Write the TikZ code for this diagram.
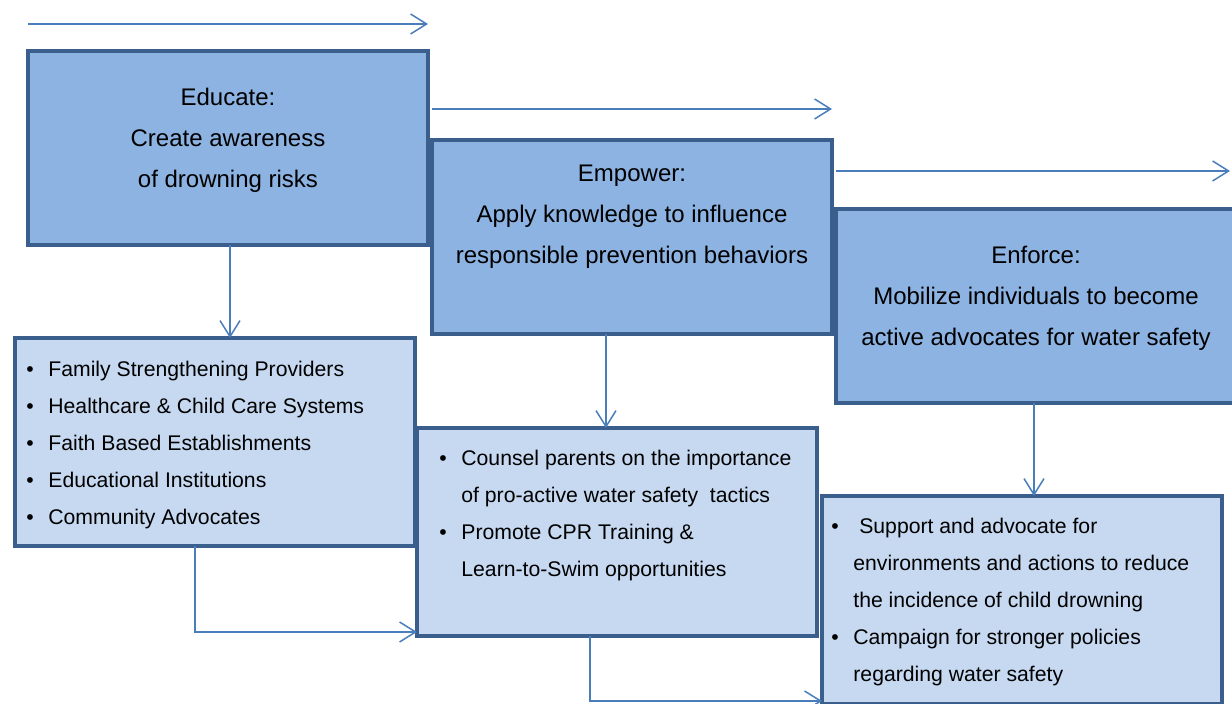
\documentclass[tikz,border=0pt]{standalone}
\usepackage{fontspec}
\setmainfont{Liberation Sans}
\usetikzlibrary{arrows.meta}
\definecolor{hdrfill}{HTML}{8DB3E2}
\definecolor{lstfill}{HTML}{C6D9F1}
\definecolor{boxline}{HTML}{3A5F8C}
\definecolor{arrline}{HTML}{4A7EBB}
\newcommand{\bul}{\makebox[11pt][l]{\textbullet}}
\newcommand{\cont}{\hspace*{11pt}}
\begin{document}
\begin{tikzpicture}[x=0.5pt,y=-0.5pt,>={Straight Barb[length=8pt,width=10pt]},
	hdrbox/.style={draw=boxline,fill=hdrfill,line width=2pt,minimum width=200pt,minimum height=97pt,anchor=north west,inner sep=0pt,outer sep=0pt},
	lstbox/.style={draw=boxline,fill=lstfill,line width=2pt,minimum width=200pt,minimum height=104pt,anchor=north west,inner sep=0pt,outer sep=0pt},
	hdrtxt/.style={align=center,inner sep=0pt,font=\fontsize{12}{20.5}\selectfont},
	lsttxt/.style={align=left,inner sep=0pt,anchor=north west,font=\fontsize{10.6}{18.5}\selectfont},
	conn/.style={->,draw=arrline,line width=0.75pt}]
	\useasboundingbox (0,0) rectangle (1232,704);
	% the three steps
	\node[hdrbox] (edu) at (28,51) {};
	\node[hdrbox] (emp) at (432,140) {};
	\node[hdrbox] (enf) at (836,209) {};
	\node[hdrtxt] (edut) at ([yshift=4pt]edu.center) {Educate:\\Create awareness\\ of drowning risks};
	\node[hdrtxt] (empt) at ([yshift=10pt]emp.center) {Empower:\\Apply knowledge to influence\\responsible prevention behaviors};
	\node[hdrtxt] (enft) at ([yshift=4pt]enf.center) {Enforce:\\Mobilize individuals to become\\active advocates for water safety};
	% the lists under them
	\node[lstbox] (lsta) at (15,338) {};
	\node[lstbox] (lstb) at (417,428) {};
	\node[lstbox] (lstc) at (822,496) {};
	\node[lsttxt] (lstat) at ([xshift=5.5pt,yshift=-11.5pt]lsta.north west) {\bul Family Strengthening Providers\\\bul Healthcare \& Child Care Systems\\\bul Faith Based Establishments\\\bul Educational Institutions\\\bul Community Advocates};
	\node[lsttxt] (lstbt) at ([xshift=11pt,yshift=-11pt]lstb.north west) {\bul Counsel parents on the importance\\\cont of pro-active water safety\ \ tactics\\\bul Promote CPR Training \&\\\cont Learn-to-Swim opportunities};
	\node[lsttxt] (lstct) at ([xshift=4.5pt,yshift=-11pt]lstc.north west) {\bul\ Support and advocate for\\\cont environments and actions to reduce\\\cont the incidence of child drowning\\\bul Campaign for stronger policies\\\cont regarding water safety};
	% arrows
	\draw[conn] ([yshift=13.5pt]edu.north west) -- ([yshift=13.5pt]edu.north east);
	\draw[conn] ([yshift=15.5pt]emp.north west) -- ([yshift=15.5pt]emp.north east);
	\draw[conn] ([yshift=19pt]enf.north west) -- ([yshift=19pt,xshift=-3pt]enf.north east);
	\draw[conn] ([xshift=1pt]edu.south) -- ([xshift=1pt]edu.south |- lsta.north);
	\draw[conn] ([xshift=-13pt]emp.south) -- ([xshift=-13pt]emp.south |- lstb.north);
	\draw[conn] ([xshift=-1pt]enf.south) -- ([xshift=-1pt]enf.south |- lstc.north);
	\draw[conn] ([xshift=-10pt]lsta.south) |- ([yshift=2pt]lstb.south west);
	\draw[conn] ([xshift=-13.5pt]lstb.south) |- ([yshift=1.5pt]lstc.south west);
\end{tikzpicture}
\end{document}
